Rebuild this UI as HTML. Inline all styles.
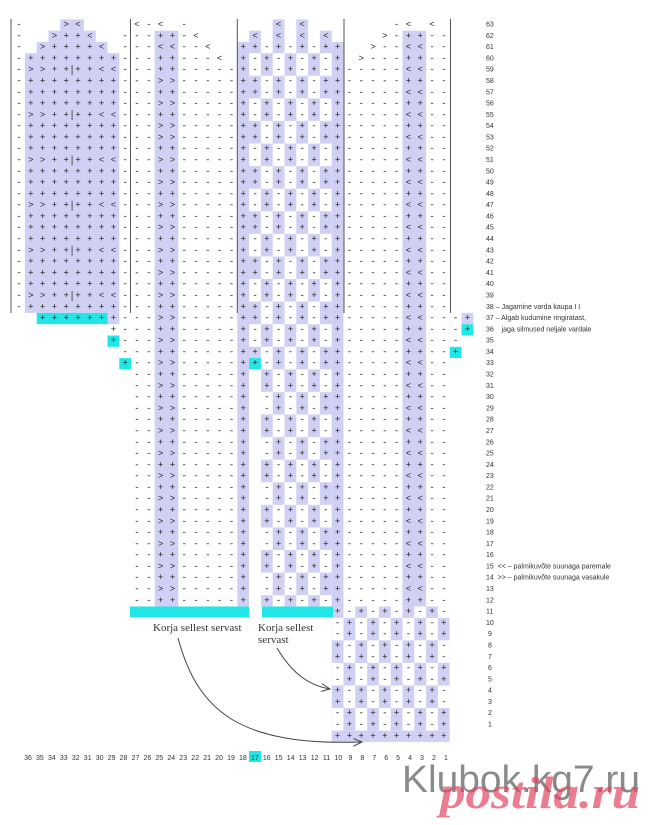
<!DOCTYPE html>
<html><head><meta charset="utf-8"><style>
html,body{margin:0;padding:0;background:#fff;}
svg{display:block;}
.g{font-family:"Liberation Mono",monospace;font-size:9px;letter-spacing:6.4px;dominant-baseline:central;fill:#222;}
.rl{font-family:"Liberation Sans",sans-serif;font-size:7px;fill:#333;dominant-baseline:central;}
.bl{font-family:"Liberation Sans",sans-serif;font-size:7px;fill:#333;text-anchor:middle;}
.ks{font-family:"Liberation Serif",serif;font-size:11px;fill:#333;}
</style></head><body>
<svg width="660" height="825" viewBox="0 0 660 825" xmlns="http://www.w3.org/2000/svg">
<defs>
<pattern id="pc" patternUnits="userSpaceOnUse" x="249.1" y="8.08" width="94.4" height="45.16">
<rect x="11.8" y="0" width="11.8" height="22.58" fill="#d0d0f4"/>
<rect x="35.4" y="0" width="11.8" height="22.58" fill="#d0d0f4"/>
<rect x="59" y="0" width="11.8" height="22.58" fill="#d0d0f4"/>
<rect x="0" y="22.58" width="11.8" height="22.58" fill="#d0d0f4"/>
<rect x="23.6" y="22.58" width="11.8" height="22.58" fill="#d0d0f4"/>
<rect x="47.2" y="22.58" width="11.8" height="22.58" fill="#d0d0f4"/>
<rect x="70.8" y="22.58" width="11.8" height="22.58" fill="#d0d0f4"/>
<rect x="82.6" y="0" width="11.8" height="45.16" fill="#d0d0f4"/>
</pattern>
<pattern id="pb" patternUnits="userSpaceOnUse" x="331.7" y="617.74" width="23.6" height="45.16">
<rect x="11.8" y="0" width="11.8" height="22.58" fill="#d0d0f4"/>
<rect x="0" y="22.58" width="11.8" height="22.58" fill="#d0d0f4"/>
</pattern>
<marker id="ah" markerWidth="10" markerHeight="8" refX="9" refY="4" orient="auto" markerUnits="userSpaceOnUse">
<path d="M0,0 L9,4 L0,8" fill="none" stroke="#444" stroke-width="1"/>
</marker>
</defs>

<g fill="#d0d0f4">
<rect x="24.9" y="53.24" width="94.4" height="259.66"/>
<rect x="36.7" y="41.95" width="70.8" height="11.29"/>
<rect x="48.5" y="30.66" width="47.2" height="11.29"/>
<rect x="60.3" y="19.37" width="23.6" height="11.29"/>
<rect x="107.5" y="312.9" width="11.8" height="11.29"/>
<rect x="154.7" y="30.66" width="23.6" height="575.8"/>
<rect x="402.5" y="30.66" width="23.6" height="575.8"/>
<rect x="237.3" y="41.95" width="11.8" height="564.51"/>
<rect x="249.1" y="30.66" width="11.8" height="11.29"/>
<rect x="272.7" y="30.66" width="11.8" height="11.29"/>
<rect x="296.3" y="30.66" width="11.8" height="11.29"/>
<rect x="319.9" y="30.66" width="11.8" height="11.29"/>
<rect x="272.7" y="19.37" width="11.8" height="11.29"/>
<rect x="296.3" y="19.37" width="11.8" height="11.29"/>
<rect x="461.5" y="312.9" width="11.8" height="11.29"/>
<rect x="331.7" y="606.46" width="11.8" height="11.29"/>
<rect x="355.3" y="606.46" width="11.8" height="11.29"/>
<rect x="378.9" y="606.46" width="11.8" height="11.29"/>
<rect x="402.5" y="606.46" width="11.8" height="11.29"/>
<rect x="426.1" y="606.46" width="11.8" height="11.29"/>
<rect x="331.7" y="730.65" width="118" height="11.29"/>
</g>
<rect x="249.1" y="41.95" width="94.4" height="564.51" fill="url(#pc)"/>
<rect x="249.1" y="369.36" width="11.8" height="237.1" fill="#fff"/>
<rect x="331.7" y="617.74" width="118" height="112.91" fill="url(#pb)"/>

<g fill="#22e6e6">
<rect x="36.7" y="312.9" width="70.8" height="11.29"/>
<rect x="107.5" y="335.5" width="11.8" height="11.29"/>
<rect x="119.3" y="358.07" width="11.8" height="11.29"/>
<rect x="249.1" y="358.07" width="11.8" height="11.29"/>
<rect x="461.5" y="324.2" width="11.8" height="11.29"/>
<rect x="449.7" y="346.78" width="11.8" height="11.29"/>
<rect x="130" y="606.5" width="119" height="11"/>
<rect x="262" y="606.5" width="71" height="11"/>
<rect x="249" y="751" width="12" height="11"/>
</g>

<g stroke="#555" stroke-width="1">
<line x1="11" y1="19" x2="11" y2="313"/>
<line x1="130.5" y1="19" x2="130.5" y2="313"/>
<line x1="237.3" y1="19" x2="237.3" y2="313"/>
<line x1="344" y1="19" x2="344" y2="313"/>
<line x1="450.5" y1="19" x2="450.5" y2="313"/>
<line x1="72.1" y1="65" x2="72.1" y2="75"/>
<line x1="72.1" y1="110" x2="72.1" y2="120"/>
<line x1="72.1" y1="155.5" x2="72.1" y2="165.5"/>
<line x1="72.1" y1="200.7" x2="72.1" y2="210.7"/>
<line x1="72.1" y1="245.8" x2="72.1" y2="255.8"/>
<line x1="72.1" y1="291" x2="72.1" y2="301"/>
</g>

<g class="g">
<text x="16.3" y="25.02">-&#160;&#160;&#160;&gt;&lt;&#160;&#160;&#160;&#160;&lt;-&lt;&#160;-&#160;&#160;&#160;&#160;&#160;&#160;&#160;&lt;&#160;&lt;&#160;&#160;&#160;&#160;&#160;&#160;&#160;-&lt;&#160;&lt;</text>
<text x="16.3" y="36.31">-&#160;&#160;&gt;++&lt;&#160;&#160;---++-&lt;&#160;&#160;&#160;&#160;&lt;&#160;&lt;&#160;&lt;&#160;&lt;&#160;&#160;&#160;&#160;&gt;-++--</text>
<text x="16.3" y="47.60">-&#160;&gt;++++&lt;&#160;---&lt;&lt;--&lt;&#160;&#160;++-+-+-++&#160;&#160;&gt;--&lt;&lt;--</text>
<text x="16.3" y="58.89">-++++++++---++---&lt;&#160;+-+-+-+-+&#160;&gt;---++--</text>
<text x="16.3" y="70.18">-&gt;&gt;++++&lt;&lt;---++-----+-+-+-+-+-----&lt;&lt;--</text>
<text x="16.3" y="81.47">-++++++++---&gt;&gt;-----++-+-+-++-----++--</text>
<text x="16.3" y="92.76">-++++++++---++-----++-+-+-++-----&lt;&lt;--</text>
<text x="16.3" y="104.05">-++++++++---&gt;&gt;-----+-+-+-+-+-----++--</text>
<text x="16.3" y="115.34">-&gt;&gt;++++&lt;&lt;---++-----+-+-+-+-+-----&lt;&lt;--</text>
<text x="16.3" y="126.63">-++++++++---&gt;&gt;-----++-+-+-++-----++--</text>
<text x="16.3" y="137.92">-++++++++---&gt;&gt;-----++-+-+-++-----&lt;&lt;--</text>
<text x="16.3" y="149.21">-++++++++---++-----+-+-+-+-+-----++--</text>
<text x="16.3" y="160.50">-&gt;&gt;++++&lt;&lt;---&gt;&gt;-----+-+-+-+-+-----&lt;&lt;--</text>
<text x="16.3" y="171.79">-++++++++---++-----++-+-+-++-----++--</text>
<text x="16.3" y="183.08">-++++++++---&gt;&gt;-----++-+-+-++-----&lt;&lt;--</text>
<text x="16.3" y="194.37">-++++++++---++-----+-+-+-+-+-----++--</text>
<text x="16.3" y="205.66">-&gt;&gt;++++&lt;&lt;---&gt;&gt;-----+-+-+-+-+-----&lt;&lt;--</text>
<text x="16.3" y="216.95">-++++++++---++-----++-+-+-++-----++--</text>
<text x="16.3" y="228.24">-++++++++---&gt;&gt;-----++-+-+-++-----&lt;&lt;--</text>
<text x="16.3" y="239.53">-++++++++---++-----+-+-+-+-+-----++--</text>
<text x="16.3" y="250.82">-&gt;&gt;++++&lt;&lt;---&gt;&gt;-----+-+-+-+-+-----&lt;&lt;--</text>
<text x="16.3" y="262.11">-++++++++---++-----++-+-+-++-----++--</text>
<text x="16.3" y="273.40">-++++++++---&gt;&gt;-----++-+-+-++-----&lt;&lt;--</text>
<text x="16.3" y="284.69">-++++++++---++-----+-+-+-+-+-----++--</text>
<text x="16.3" y="295.98">-&gt;&gt;++++&lt;&lt;---&gt;&gt;-----+-+-+-+-+-----&lt;&lt;--</text>
<text x="16.3" y="307.27">-++++++++---++-----++-+-+-++-----++--</text>
<text x="16.3" y="318.56">&#160;&#160;+++++++---&gt;&gt;-----++-+-+-++-----&lt;&lt;---+</text>
<text x="16.3" y="329.85">&#160;&#160;&#160;&#160;&#160;&#160;&#160;&#160;+---++-----+-+-+-+-+-----++---+</text>
<text x="16.3" y="341.14">&#160;&#160;&#160;&#160;&#160;&#160;&#160;&#160;+---&gt;&gt;-----+-+-+-+-+-----&lt;&lt;---</text>
<text x="16.3" y="352.43">&#160;&#160;&#160;&#160;&#160;&#160;&#160;&#160;&#160;---++-----++-+-+-++-----++--+</text>
<text x="16.3" y="363.72">&#160;&#160;&#160;&#160;&#160;&#160;&#160;&#160;&#160;+--&gt;&gt;-----++-+-+-++-----&lt;&lt;--</text>
<text x="16.3" y="375.01">&#160;&#160;&#160;&#160;&#160;&#160;&#160;&#160;&#160;&#160;--++-----+&#160;+-+-+-+-----++--</text>
<text x="16.3" y="386.30">&#160;&#160;&#160;&#160;&#160;&#160;&#160;&#160;&#160;&#160;--&gt;&gt;-----+&#160;+-+-+-+-----&lt;&lt;--</text>
<text x="16.3" y="397.59">&#160;&#160;&#160;&#160;&#160;&#160;&#160;&#160;&#160;&#160;--++-----+&#160;-+-+-++-----++--</text>
<text x="16.3" y="408.88">&#160;&#160;&#160;&#160;&#160;&#160;&#160;&#160;&#160;&#160;--&gt;&gt;-----+&#160;-+-+-++-----&lt;&lt;--</text>
<text x="16.3" y="420.17">&#160;&#160;&#160;&#160;&#160;&#160;&#160;&#160;&#160;&#160;--++-----+&#160;+-+-+-+-----++--</text>
<text x="16.3" y="431.46">&#160;&#160;&#160;&#160;&#160;&#160;&#160;&#160;&#160;&#160;--&gt;&gt;-----+&#160;+-+-+-+-----&lt;&lt;--</text>
<text x="16.3" y="442.75">&#160;&#160;&#160;&#160;&#160;&#160;&#160;&#160;&#160;&#160;--++-----+&#160;-+-+-++-----++--</text>
<text x="16.3" y="454.04">&#160;&#160;&#160;&#160;&#160;&#160;&#160;&#160;&#160;&#160;--&gt;&gt;-----+&#160;-+-+-++-----&lt;&lt;--</text>
<text x="16.3" y="465.33">&#160;&#160;&#160;&#160;&#160;&#160;&#160;&#160;&#160;&#160;--++-----+&#160;+-+-+-+-----++--</text>
<text x="16.3" y="476.62">&#160;&#160;&#160;&#160;&#160;&#160;&#160;&#160;&#160;&#160;--&gt;&gt;-----+&#160;+-+-+-+-----&lt;&lt;--</text>
<text x="16.3" y="487.91">&#160;&#160;&#160;&#160;&#160;&#160;&#160;&#160;&#160;&#160;--++-----+&#160;-+-+-++-----++--</text>
<text x="16.3" y="499.20">&#160;&#160;&#160;&#160;&#160;&#160;&#160;&#160;&#160;&#160;--&gt;&gt;-----+&#160;-+-+-++-----&lt;&lt;--</text>
<text x="16.3" y="510.49">&#160;&#160;&#160;&#160;&#160;&#160;&#160;&#160;&#160;&#160;--++-----+&#160;+-+-+-+-----++--</text>
<text x="16.3" y="521.78">&#160;&#160;&#160;&#160;&#160;&#160;&#160;&#160;&#160;&#160;--&gt;&gt;-----+&#160;+-+-+-+-----&lt;&lt;--</text>
<text x="16.3" y="533.07">&#160;&#160;&#160;&#160;&#160;&#160;&#160;&#160;&#160;&#160;--++-----+&#160;-+-+-++-----++--</text>
<text x="16.3" y="544.36">&#160;&#160;&#160;&#160;&#160;&#160;&#160;&#160;&#160;&#160;--&gt;&gt;-----+&#160;-+-+-++-----&lt;&lt;--</text>
<text x="16.3" y="555.65">&#160;&#160;&#160;&#160;&#160;&#160;&#160;&#160;&#160;&#160;--++-----+&#160;+-+-+-+-----++--</text>
<text x="16.3" y="566.94">&#160;&#160;&#160;&#160;&#160;&#160;&#160;&#160;&#160;&#160;--&gt;&gt;-----+&#160;+-+-+-+-----&lt;&lt;--</text>
<text x="16.3" y="578.23">&#160;&#160;&#160;&#160;&#160;&#160;&#160;&#160;&#160;&#160;--++-----+&#160;-+-+-++-----++--</text>
<text x="16.3" y="589.52">&#160;&#160;&#160;&#160;&#160;&#160;&#160;&#160;&#160;&#160;--&gt;&gt;-----+&#160;-+-+-++-----&lt;&lt;--</text>
<text x="16.3" y="600.81">&#160;&#160;&#160;&#160;&#160;&#160;&#160;&#160;&#160;&#160;--++-----+&#160;+-+-+-+-----++--</text>
<text x="16.3" y="612.10">&#160;&#160;&#160;&#160;&#160;&#160;&#160;&#160;&#160;&#160;&#160;&#160;&#160;&#160;&#160;&#160;&#160;&#160;&#160;&#160;&#160;&#160;&#160;&#160;&#160;&#160;&#160;+-+-+-+-+-</text>
<text x="16.3" y="623.39">&#160;&#160;&#160;&#160;&#160;&#160;&#160;&#160;&#160;&#160;&#160;&#160;&#160;&#160;&#160;&#160;&#160;&#160;&#160;&#160;&#160;&#160;&#160;&#160;&#160;&#160;&#160;-+-+-+-+-+</text>
<text x="16.3" y="634.68">&#160;&#160;&#160;&#160;&#160;&#160;&#160;&#160;&#160;&#160;&#160;&#160;&#160;&#160;&#160;&#160;&#160;&#160;&#160;&#160;&#160;&#160;&#160;&#160;&#160;&#160;&#160;-+-+-+-+-+</text>
<text x="16.3" y="645.97">&#160;&#160;&#160;&#160;&#160;&#160;&#160;&#160;&#160;&#160;&#160;&#160;&#160;&#160;&#160;&#160;&#160;&#160;&#160;&#160;&#160;&#160;&#160;&#160;&#160;&#160;&#160;+-+-+-+-+-</text>
<text x="16.3" y="657.26">&#160;&#160;&#160;&#160;&#160;&#160;&#160;&#160;&#160;&#160;&#160;&#160;&#160;&#160;&#160;&#160;&#160;&#160;&#160;&#160;&#160;&#160;&#160;&#160;&#160;&#160;&#160;+-+-+-+-+-</text>
<text x="16.3" y="668.55">&#160;&#160;&#160;&#160;&#160;&#160;&#160;&#160;&#160;&#160;&#160;&#160;&#160;&#160;&#160;&#160;&#160;&#160;&#160;&#160;&#160;&#160;&#160;&#160;&#160;&#160;&#160;-+-+-+-+-+</text>
<text x="16.3" y="679.84">&#160;&#160;&#160;&#160;&#160;&#160;&#160;&#160;&#160;&#160;&#160;&#160;&#160;&#160;&#160;&#160;&#160;&#160;&#160;&#160;&#160;&#160;&#160;&#160;&#160;&#160;&#160;-+-+-+-+-+</text>
<text x="16.3" y="691.13">&#160;&#160;&#160;&#160;&#160;&#160;&#160;&#160;&#160;&#160;&#160;&#160;&#160;&#160;&#160;&#160;&#160;&#160;&#160;&#160;&#160;&#160;&#160;&#160;&#160;&#160;&#160;+-+-+-+-+-</text>
<text x="16.3" y="702.42">&#160;&#160;&#160;&#160;&#160;&#160;&#160;&#160;&#160;&#160;&#160;&#160;&#160;&#160;&#160;&#160;&#160;&#160;&#160;&#160;&#160;&#160;&#160;&#160;&#160;&#160;&#160;+-+-+-+-+-</text>
<text x="16.3" y="713.71">&#160;&#160;&#160;&#160;&#160;&#160;&#160;&#160;&#160;&#160;&#160;&#160;&#160;&#160;&#160;&#160;&#160;&#160;&#160;&#160;&#160;&#160;&#160;&#160;&#160;&#160;&#160;-+-+-+-+-+</text>
<text x="16.3" y="725.00">&#160;&#160;&#160;&#160;&#160;&#160;&#160;&#160;&#160;&#160;&#160;&#160;&#160;&#160;&#160;&#160;&#160;&#160;&#160;&#160;&#160;&#160;&#160;&#160;&#160;&#160;&#160;-+-+-+-+-+</text>
<text x="16.3" y="736.29">&#160;&#160;&#160;&#160;&#160;&#160;&#160;&#160;&#160;&#160;&#160;&#160;&#160;&#160;&#160;&#160;&#160;&#160;&#160;&#160;&#160;&#160;&#160;&#160;&#160;&#160;&#160;++++++++++</text>
</g>

<g class="rl">
<text x="486" y="25.02">63</text><text x="486" y="36.31">62</text><text x="486" y="47.60">61</text><text x="486" y="58.89">60</text>
<text x="486" y="70.18">59</text><text x="486" y="81.47">58</text><text x="486" y="92.76">57</text><text x="486" y="104.05">56</text>
<text x="486" y="115.34">55</text><text x="486" y="126.63">54</text><text x="486" y="137.92">53</text><text x="486" y="149.21">52</text>
<text x="486" y="160.50">51</text><text x="486" y="171.79">50</text><text x="486" y="183.08">49</text><text x="486" y="194.37">48</text>
<text x="486" y="205.66">47</text><text x="486" y="216.95">46</text><text x="486" y="228.24">45</text><text x="486" y="239.53">44</text>
<text x="486" y="250.82">43</text><text x="486" y="262.11">42</text><text x="486" y="273.40">41</text><text x="486" y="284.69">40</text>
<text x="486" y="295.98">39</text>
<text x="486" y="307.27">38 – Jagamine varda kaupa I   I</text>
<text x="486" y="318.56">37 – Algab kudumine ringiratast,</text>
<text x="486" y="329.85">36 &#160;&#160;&#160;jaga silmused neljale vardale</text>
<text x="486" y="341.14">35</text><text x="486" y="352.43">34</text><text x="486" y="363.72">33</text><text x="486" y="375.01">32</text>
<text x="486" y="386.30">31</text><text x="486" y="397.59">30</text><text x="486" y="408.88">29</text><text x="486" y="420.17">28</text>
<text x="486" y="431.46">27</text><text x="486" y="442.75">26</text><text x="486" y="454.04">25</text><text x="486" y="465.33">24</text>
<text x="486" y="476.62">23</text><text x="486" y="487.91">22</text><text x="486" y="499.20">21</text><text x="486" y="510.49">20</text>
<text x="486" y="521.78">19</text><text x="486" y="533.07">18</text><text x="486" y="544.36">17</text><text x="486" y="555.65">16</text>
<text x="486" y="566.94">15 &#160;&lt;&lt; – palmikuvõte suunaga paremale</text>
<text x="486" y="578.23">14 &#160;&gt;&gt; – palmikuvõte suunaga vasakule</text>
<text x="486" y="589.52">13</text><text x="486" y="600.81">12</text><text x="486" y="612.10">11</text><text x="486" y="623.39">10</text>
<text x="488" y="634.68">9</text><text x="488" y="645.97">8</text><text x="488" y="657.26">7</text><text x="488" y="668.55">6</text>
<text x="488" y="679.84">5</text><text x="488" y="691.13">4</text><text x="488" y="702.42">3</text><text x="488" y="713.71">2</text>
<text x="488" y="725.00">1</text>
</g>

<g class="bl">
<text x="28" y="760">36</text><text x="39.9" y="760">35</text><text x="51.9" y="760">34</text><text x="63.8" y="760">33</text>
<text x="75.8" y="760">32</text><text x="87.7" y="760">31</text><text x="99.6" y="760">30</text><text x="111.6" y="760">29</text>
<text x="123.5" y="760">28</text><text x="135.5" y="760">27</text><text x="147.4" y="760">26</text><text x="159.3" y="760">25</text>
<text x="171.3" y="760">24</text><text x="183.2" y="760">23</text><text x="195.2" y="760">22</text><text x="207.1" y="760">21</text>
<text x="219" y="760">20</text><text x="231" y="760">19</text><text x="242.9" y="760">18</text><text x="254.9" y="760">17</text>
<text x="266.8" y="760">16</text><text x="278.7" y="760">15</text><text x="290.7" y="760">14</text><text x="302.6" y="760">13</text>
<text x="314.6" y="760">12</text><text x="326.5" y="760">11</text><text x="338.4" y="760">10</text><text x="350.4" y="760">9</text>
<text x="362.3" y="760">8</text><text x="374.3" y="760">7</text><text x="386.2" y="760">6</text><text x="398.1" y="760">5</text>
<text x="410.1" y="760">4</text><text x="422" y="760">3</text><text x="434" y="760">2</text><text x="445.9" y="760">1</text>
</g>

<text class="ks" x="153" y="631">Korja sellest servast</text>
<text class="ks" x="258" y="631">Korja sellest</text>
<text class="ks" x="258" y="643">servast</text>

<path d="M178,638 C198,712 240,746 362,742" fill="none" stroke="#444" stroke-width="1" marker-end="url(#ah)"/>
<path d="M277,648 C290,670 306,685 330,689" fill="none" stroke="#444" stroke-width="1" marker-end="url(#ah)"/>

<text x="402" y="792" font-family="Liberation Sans, sans-serif" font-size="38" fill="#8a8a8a" textLength="238" lengthAdjust="spacingAndGlyphs">Klubok.kg7.ru</text>
<text x="440" y="808" font-family="Liberation Serif, serif" font-size="46" font-weight="bold" font-style="italic" fill="rgba(225,70,95,0.7)" textLength="200" lengthAdjust="spacingAndGlyphs">postila.ru</text>
</svg>
</body></html>
